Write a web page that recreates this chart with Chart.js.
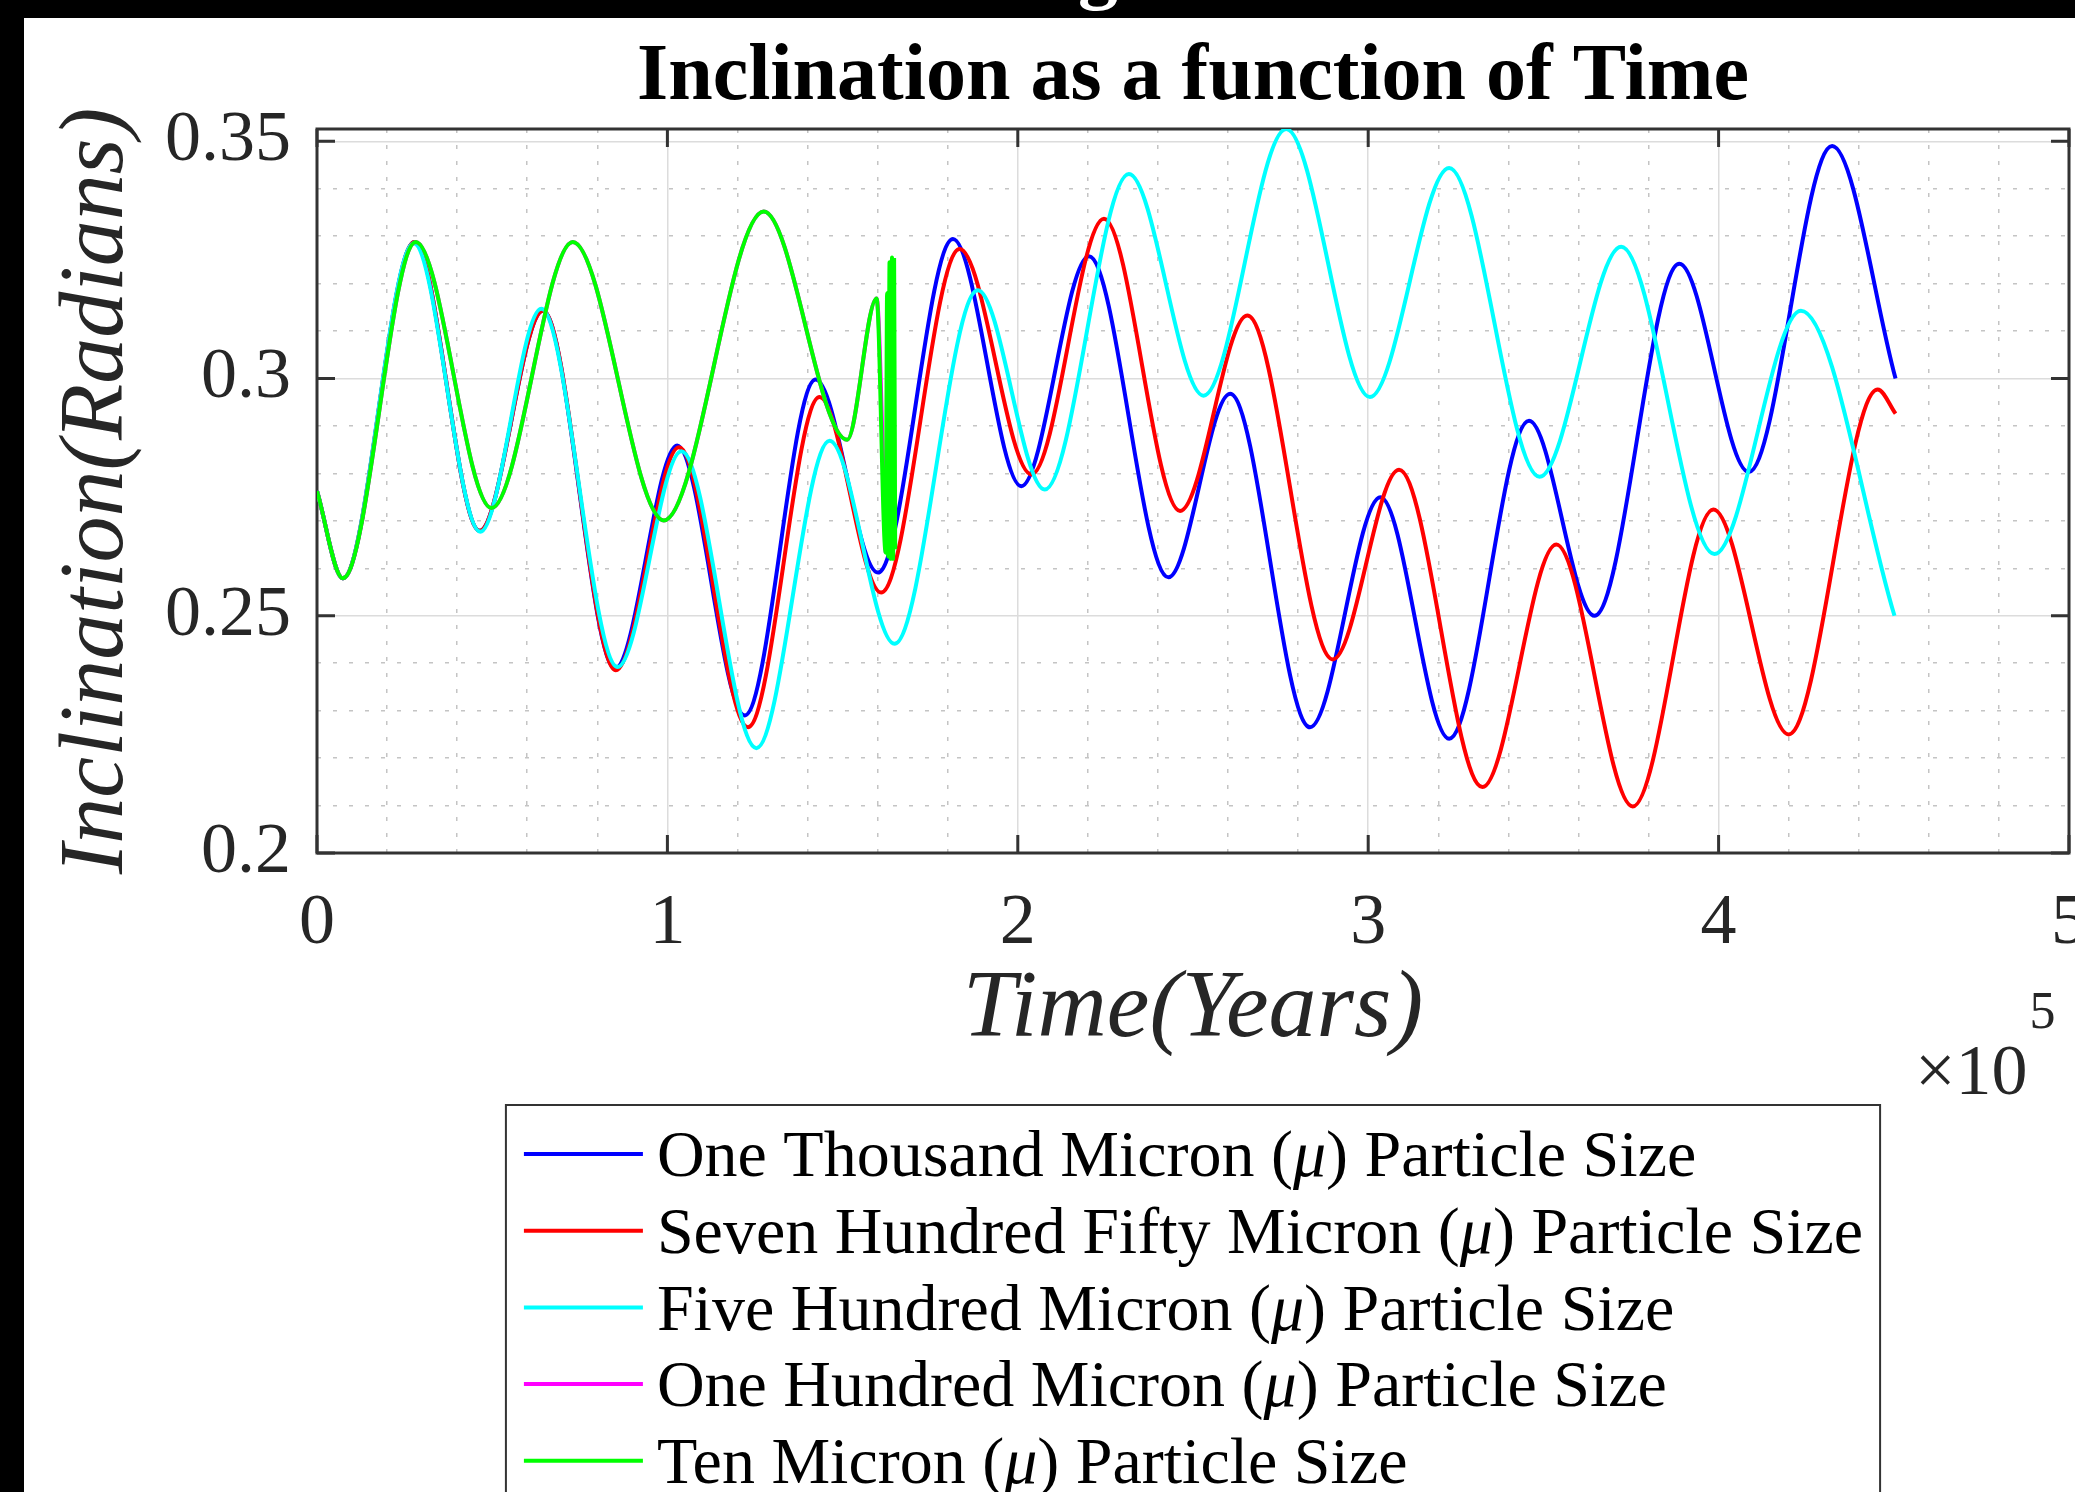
<!DOCTYPE html>
<html>
<head>
<meta charset="utf-8">
<script src="https://cdn.jsdelivr.net/npm/chart.js@4.4.1/dist/chart.umd.min.js"></script>
<style>
  html, body { margin: 0; padding: 0; background: #000; overflow: hidden; width: 2075px; height: 1492px; }
  #panel { position: absolute; left: 24px; top: 18px; width: 2051px; height: 1474px; background: #fff; overflow: hidden; }
  #cut { position: absolute; left: 1078px; top: -73px; font: bold 80px 'Liberation Serif'; line-height: 1; color: #fff; }
  canvas { position: absolute; left: 0; top: 0; }
</style>
</head>
<body>
<div id="cut">g</div>
<div id="panel"><canvas id="myChart" width="2091" height="1474"></canvas></div>
<script>
const FONT = 'Liberation Serif';

// time in years, inclination in radians
const blueTime = [0, 7400, 27800, 46400, 64500, 85100, 102800, 122100, 142300, 160100, 181500, 201000,
  220300, 243000, 260600, 283400, 303500, 323100, 345900, 364600, 388800, 408600, 432400, 450500];
const blueIncl = [0.2763, 0.2579, 0.3288, 0.2679, 0.3143, 0.2389, 0.2859, 0.2290, 0.2998, 0.2591, 0.3294, 0.2773,
  0.3258, 0.2581, 0.2968, 0.2265, 0.2750, 0.2241, 0.2911, 0.2500, 0.3242, 0.2803, 0.3490, 0.3000];

const redTime = [0, 7400, 27800, 46400, 64500, 85300, 103300, 123000, 143400, 161000, 183400, 203900,
  224600, 246300, 265500, 289900, 308800, 332600, 353700, 375500, 398500, 420000, 445400, 450500];
const redIncl = [0.2763, 0.2579, 0.3288, 0.2679, 0.3143, 0.2385, 0.2855, 0.2265, 0.2961, 0.2549, 0.3273, 0.2798,
  0.3337, 0.2721, 0.3133, 0.2408, 0.2808, 0.2139, 0.2650, 0.2098, 0.2724, 0.2250, 0.2977, 0.2926];

const cyanTime = [0, 7400, 27600, 46600, 64000, 85800, 104000, 125400, 146300, 164800, 188600, 207700,
  231700, 253000, 276600, 300500, 323100, 348900, 372200, 398800, 423500, 450200];
const cyanIncl = [0.2763, 0.2579, 0.3285, 0.2677, 0.3147, 0.2392, 0.2847, 0.2221, 0.2869, 0.2441, 0.3186, 0.2766,
  0.3431, 0.2964, 0.3526, 0.2961, 0.3444, 0.2793, 0.3278, 0.2630, 0.3143, 0.2500];

const magentaTime = [0, 7400, 28200, 49800, 73000, 99000, 127500, 151300, 159700, 162300];
const magentaIncl = [0.2763, 0.2579, 0.3288, 0.2727, 0.3288, 0.2701, 0.3352, 0.2871, 0.3169, 0.2633];

const greenTime = [0, 7400, 28200, 49800, 73000, 99000, 127500, 151300, 159700, 162300, 162700, 163000,
  163400, 163700, 164100, 164400, 164700, 165000];
const greenIncl = [0.2763, 0.2579, 0.3288, 0.2727, 0.3288, 0.2701, 0.3352, 0.2871, 0.3169, 0.2633, 0.3180, 0.2625,
  0.3245, 0.2620, 0.3255, 0.2620, 0.3250, 0.2640];

const seriesNames = [
  'One Thousand Micron (μ) Particle Size',
  'Seven Hundred Fifty Micron (μ) Particle Size',
  'Five Hundred Micron (μ) Particle Size',
  'One Hundred Micron (μ) Particle Size',
  'Ten Micron (μ) Particle Size'
];
const seriesColors = ['#0000ff', '#ff0000', '#00ffff', '#ff00ff', '#00ff00'];

const xTicks = [0, 100000, 200000, 300000, 400000, 500000];
const xTickLabels = ['0', '1', '2', '3', '4', '5'];
const yTicks = [0.2, 0.25, 0.3, 0.35];
const yTickLabels = ['0.2', '0.25', '0.3', '0.35'];

function toPoints(ts, vs) {
  return ts.map((t, i) => ({ x: t, y: vs[i] }));
}

const datasets = [
  { label: seriesNames[0], data: toPoints(blueTime, blueIncl), borderColor: seriesColors[0], order: 5 },
  { label: seriesNames[1], data: toPoints(redTime, redIncl), borderColor: seriesColors[1], order: 4 },
  { label: seriesNames[2], data: toPoints(cyanTime, cyanIncl), borderColor: seriesColors[2], order: 3 },
  { label: seriesNames[3], data: toPoints(magentaTime, magentaIncl), borderColor: seriesColors[3], order: 2 },
  { label: seriesNames[4], data: toPoints(greenTime, greenIncl), borderColor: seriesColors[4], order: 1 }
].map(d => Object.assign(d, {
  borderWidth: 4,
  pointRadius: 0,
  fill: false,
  cubicInterpolationMode: 'monotone'
}));

const isMajorY = v => Math.abs(v / 0.05 - Math.round(v / 0.05)) < 1e-6;
const isMajorX = v => Math.abs(v / 100000 - Math.round(v / 100000)) < 1e-6;

// box, inward ticks, x10^5 and the boxed legend
const frame = {
  id: 'frame',
  beforeDatasetsDraw(chart) {
    const { ctx, chartArea: a, scales } = chart;
    ctx.save();
    ctx.strokeStyle = '#333333';
    ctx.lineWidth = 3;
    ctx.beginPath();
    xTicks.forEach(v => {
      const px = scales.x.getPixelForValue(v);
      ctx.moveTo(px, a.bottom); ctx.lineTo(px, a.bottom - 18);
      ctx.moveTo(px, a.top); ctx.lineTo(px, a.top + 18);
    });
    yTicks.forEach(v => {
      const py = scales.y.getPixelForValue(v);
      ctx.moveTo(a.left, py); ctx.lineTo(a.left + 18, py);
      ctx.moveTo(a.right, py); ctx.lineTo(a.right - 18, py);
    });
    ctx.stroke();
    ctx.strokeRect(a.left, a.top, a.right - a.left, a.bottom - a.top);
    ctx.restore();
  },
  afterDraw(chart) {
    const { ctx, chartArea: a } = chart;
    ctx.save();
    // exponent label
    ctx.fillStyle = '#262626';
    ctx.textBaseline = 'alphabetic';
    ctx.textAlign = 'left';
    ctx.font = '72px "' + FONT + '"';
    ctx.fillText('×10', 1891, 1076);
    const w = ctx.measureText('×10').width;
    ctx.font = '52px "' + FONT + '"';
    ctx.fillText('5', 1891 + w + 2, 1010);

    // legend
    const normal = '66px "' + FONT + '"';
    const italic = 'italic 66px "' + FONT + '"';
    const measure = label => {
      const parts = label.split('μ');
      ctx.font = normal;
      let t = ctx.measureText(parts[0]).width + ctx.measureText(parts[1]).width;
      ctx.font = italic;
      return t + ctx.measureText('μ').width;
    };
    const maxW = Math.max(...chart.data.datasets.map(d => measure(d.label)));
    const boxW = 18 + 119 + 14 + maxW + 17;
    const boxL = (a.left + a.right) / 2 - boxW / 2;
    const boxT = 1087;
    ctx.fillStyle = '#ffffff';
    ctx.fillRect(boxL, boxT, boxW, chart.height - boxT + 20);
    ctx.strokeStyle = '#333333';
    ctx.lineWidth = 2;
    ctx.strokeRect(boxL, boxT, boxW, chart.height - boxT + 20);
    chart.data.datasets.forEach((d, i) => {
      const cy = 1141 + i * 76.7;
      ctx.strokeStyle = d.borderColor;
      ctx.lineWidth = 4;
      ctx.beginPath();
      ctx.moveTo(boxL + 18, cy - 5);
      ctx.lineTo(boxL + 137, cy - 5);
      ctx.stroke();
      const parts = d.label.split('μ');
      let x = boxL + 151;
      ctx.fillStyle = '#000000';
      ctx.textBaseline = 'middle';
      ctx.font = normal;
      ctx.fillText(parts[0], x, cy);
      x += ctx.measureText(parts[0]).width;
      ctx.font = italic;
      ctx.fillText('μ', x, cy);
      x += ctx.measureText('μ').width;
      ctx.font = normal;
      ctx.fillText(parts[1], x, cy);
    });
    ctx.restore();
  }
};

const ctx = document.getElementById('myChart').getContext('2d');

const myChart = new Chart(ctx, {
  type: 'line',
  data: { datasets: datasets },
  options: {
    responsive: false,
    animation: false,
    layout: { padding: { left: 0, right: 44, top: 0, bottom: 409 } },
    scales: {
      x: {
        type: 'linear',
        position: 'bottom',
        min: 0,
        max: 500000,
        afterBuildTicks: s => { s.ticks = xTicks.map(v => ({ value: v })); },
        afterFit: s => { s.height = 230; },
        ticks: {
          font: { family: FONT, size: 72 },
          color: '#262626',
          padding: 28,
          maxRotation: 0,
          autoSkip: false,
          callback: (v, i) => xTickLabels[i]
        },
        grid: { color: '#dcdcdc', lineWidth: 1.5, drawTicks: false },
        border: { display: false },
        title: {
          display: true,
          text: 'Time(Years)',
          color: '#262626',
          font: { family: FONT, size: 96, style: 'italic' },
          padding: { top: 0, bottom: 15 }
        }
      },
      xMinor: {
        type: 'linear',
        position: 'bottom',
        min: 0,
        max: 500000,
        afterFit: s => { s.height = 0; },
        ticks: { display: false, stepSize: 20000 },
        grid: {
          color: c => (c.tick && isMajorX(c.tick.value)) ? 'rgba(0,0,0,0)' : '#c4c4c4',
          lineWidth: 1.5,
          drawTicks: false
        },
        border: { display: false, dash: [4, 12] }
      },
      y: {
        type: 'linear',
        position: 'left',
        min: 0.2,
        max: 0.3526,
        afterBuildTicks: s => { s.ticks = yTicks.map(v => ({ value: v })); },
        afterFit: s => { s.width = 293; },
        ticks: {
          font: { family: FONT, size: 72 },
          color: '#262626',
          padding: 26,
          callback: (v, i) => yTickLabels[i]
        },
        grid: { color: '#dcdcdc', lineWidth: 1.5, drawTicks: false },
        border: { display: false },
        title: {
          display: true,
          text: 'Inclination(Radians)',
          color: '#262626',
          font: { family: FONT, size: 92, style: 'italic' },
          padding: { top: 19, bottom: 0 }
        }
      },
      yMinor: {
        type: 'linear',
        position: 'left',
        min: 0.2,
        max: 0.3526,
        afterFit: s => { s.width = 0; },
        ticks: { display: false, stepSize: 0.01, includeBounds: false },
        grid: {
          color: c => (c.tick && isMajorY(c.tick.value)) ? 'rgba(0,0,0,0)' : '#c4c4c4',
          lineWidth: 1.5,
          drawTicks: false
        },
        border: { display: false, dash: [4, 12] }
      }
    },
    plugins: {
      legend: { display: false },
      tooltip: { enabled: false },
      title: {
        display: true,
        text: 'Inclination as a function of Time',
        color: '#000000',
        fullSize: false,
        font: { family: FONT, size: 80, weight: 'bold' },
        padding: { top: 12, bottom: 3 }
      }
    }
  },
  plugins: [frame]
});
</script>
</body>
</html>
